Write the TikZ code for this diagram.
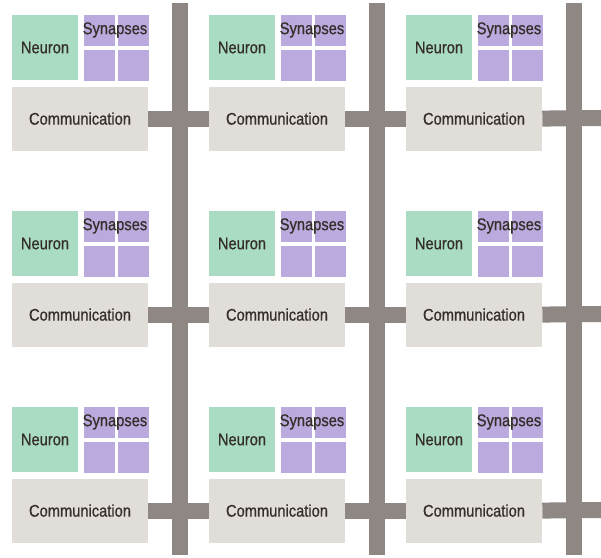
\documentclass[tikz,border=0pt]{standalone}
\usepackage{fontspec}
\setmainfont[FakeStretch=0.87,FakeBold=0.8]{Liberation Sans}
\usetikzlibrary{positioning}
\definecolor{neurongreen}{HTML}{A9DCC2}
\definecolor{synpurple}{HTML}{BBAADD}
\definecolor{commgray}{HTML}{E1DEDA}
\definecolor{busgray}{HTML}{8F8783}
\definecolor{labtext}{HTML}{352F2C}
\begin{document}
\begin{tikzpicture}[x=0.025cm,y=-0.025cm,font=\fontsize{12}{14}\selectfont,
 neuron/.style={fill=neurongreen,minimum width=1.65cm,minimum height=1.625cm,inner sep=0pt,text=labtext},
 syn/.style={fill=synpurple,minimum size=0.775cm,inner sep=0pt},
 comm/.style={fill=commgray,minimum width=3.4cm,minimum height=1.6cm,inner sep=0pt,text=labtext},
 bus/.style={draw=busgray,line width=0.4cm}]
\useasboundingbox (0,0) rectangle (601,558);
% vertical buses
\foreach \c/\x in {1/180,2/377,3/574}{
 \coordinate (top\c) at (\x,3); \coordinate (bot\c) at (\x,555);
 \draw[bus] (top\c) -- (bot\c);
}
% tiles
\foreach \r/\y in {1/0,2/196,3/392}{
 \foreach \c/\x in {1/0,2/197,3/394}{
  \node[neuron] (n\r\c) at (\x+45,\y+47.5) {Neuron};
  \node[syn,below right=0pt and 0.125cm of n\r\c.north east] (sa\r\c) {};
  \node[syn,right=0.075cm of sa\r\c] (sb\r\c) {};
  \node[syn,below=0.075cm of sa\r\c] (sc\r\c) {};
  \node[syn,below=0.075cm of sb\r\c] (sd\r\c) {};
  \node[inner sep=0pt,text=labtext] (lab\r\c) at (\x+115,\y+30) {Synapses};
  \node[comm,below right=0.15cm and 0pt of n\r\c.south west] (c\r\c) {Communication};
 }
 \coordinate (edge\r) at (601,\y+118);
 \draw[bus] (c\r1.east) -- (c\r2.west);
 \draw[bus] (c\r2.east) -- (c\r3.west);
 \draw[bus] (c\r3.east) -- (edge\r);
}
\end{tikzpicture}
\end{document}
